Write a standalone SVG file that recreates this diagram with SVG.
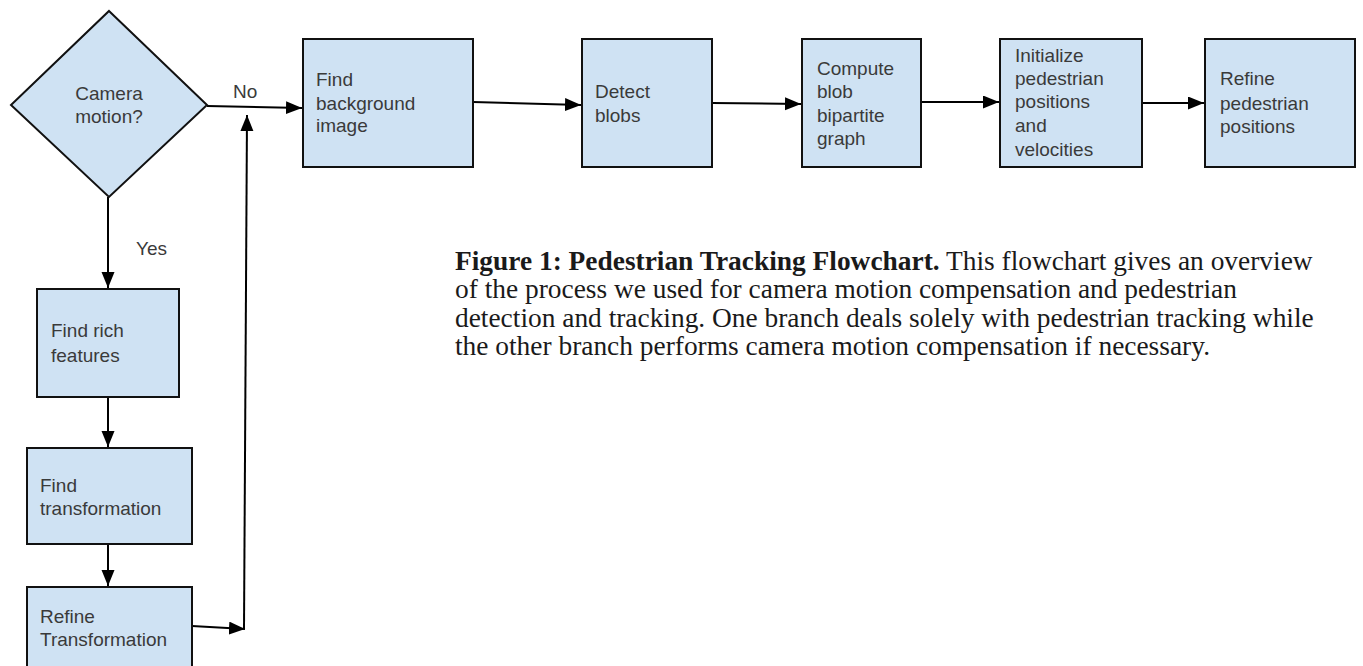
<svg xmlns="http://www.w3.org/2000/svg" width="1363" height="666" viewBox="0 0 1363 666">
<defs>
<marker id="ah" markerUnits="userSpaceOnUse" markerWidth="17" markerHeight="14" refX="16" refY="6.5" orient="auto">
<path d="M0,0 L16,6.5 L0,13 z" fill="#000"/>
</marker>
<style>
.box{fill:#cfe2f3;stroke:#111;stroke-width:2}
.t{font-family:"Liberation Sans",Arial,sans-serif;font-size:19px;fill:#3a3a3a}
.c{stroke:#000;stroke-width:2;fill:none;marker-end:url(#ah)}
.cap{font-family:"Liberation Serif","Times New Roman",serif;font-size:27.4px;fill:#1a1a1a}
</style>
</defs>
<rect width="1363" height="666" fill="#fff"/>
<g id="connectors">
<line class="c" x1="207" y1="106" x2="302" y2="108"/>
<line class="c" x1="473" y1="102" x2="581" y2="105"/>
<line class="c" x1="712" y1="103" x2="801" y2="104"/>
<line class="c" x1="921" y1="102" x2="999" y2="102"/>
<line class="c" x1="1142" y1="103" x2="1204" y2="103"/>
<line class="c" x1="108" y1="197" x2="108" y2="288"/>
<line class="c" x1="108" y1="397" x2="108" y2="447"/>
<line class="c" x1="108" y1="544" x2="108" y2="586"/>
<line class="c" x1="192" y1="626" x2="245" y2="629"/>
<line class="c" x1="244" y1="629" x2="247" y2="115"/>
<text class="t" x="233" y="98">No</text>
<text class="t" x="136" y="255">Yes</text>
</g>
<g id="n-camera">
<polygon class="box" points="109,11 207,105 109,197 11,105"/>
<text class="t" x="109" y="100" text-anchor="middle">Camera</text>
<text class="t" x="109" y="123" text-anchor="middle">motion?</text>
</g>
<g id="n-background">
<rect class="box" x="303" y="39" width="170" height="128"/>
<text class="t" x="316" y="86">Find</text>
<text class="t" x="316" y="110">background</text>
<text class="t" x="316" y="132">image</text>
</g>
<g id="n-detect">
<rect class="box" x="582" y="39" width="130" height="128"/>
<text class="t" x="595" y="98">Detect</text>
<text class="t" x="595" y="122">blobs</text>
</g>
<g id="n-compute">
<rect class="box" x="802" y="39" width="119" height="128"/>
<text class="t" x="817" y="75">Compute</text>
<text class="t" x="817" y="98">blob</text>
<text class="t" x="817" y="122">bipartite</text>
<text class="t" x="817" y="145">graph</text>
</g>
<g id="n-initialize">
<rect class="box" x="1000" y="39" width="142" height="128"/>
<text class="t" x="1015" y="62">Initialize</text>
<text class="t" x="1015" y="85">pedestrian</text>
<text class="t" x="1015" y="108">positions</text>
<text class="t" x="1015" y="132">and</text>
<text class="t" x="1015" y="156">velocities</text>
</g>
<g id="n-refine-ped">
<rect class="box" x="1205" y="39" width="150" height="128"/>
<text class="t" x="1220" y="85">Refine</text>
<text class="t" x="1220" y="110">pedestrian</text>
<text class="t" x="1220" y="133">positions</text>
</g>
<g id="n-rich">
<rect class="box" x="37" y="289" width="142" height="108"/>
<text class="t" x="51" y="337">Find rich</text>
<text class="t" x="51" y="362">features</text>
</g>
<g id="n-transform">
<rect class="box" x="27" y="448" width="165" height="96"/>
<text class="t" x="40" y="492">Find</text>
<text class="t" x="40" y="515">transformation</text>
</g>
<g id="n-refine-trans">
<rect class="box" x="27" y="587" width="165" height="100"/>
<text class="t" x="40" y="623">Refine</text>
<text class="t" x="40" y="646">Transformation</text>
</g>
<g id="caption">
<text class="cap" x="455" y="270"><tspan font-weight="bold">Figure 1: Pedestrian Tracking Flowchart.</tspan> This flowchart gives an overview</text>
<text class="cap" x="455" y="298">of the process we used for camera motion compensation and pedestrian</text>
<text class="cap" x="455" y="327">detection and tracking. One branch deals solely with pedestrian tracking while</text>
<text class="cap" x="455" y="355">the other branch performs camera motion compensation if necessary.</text>
</g>
</svg>
